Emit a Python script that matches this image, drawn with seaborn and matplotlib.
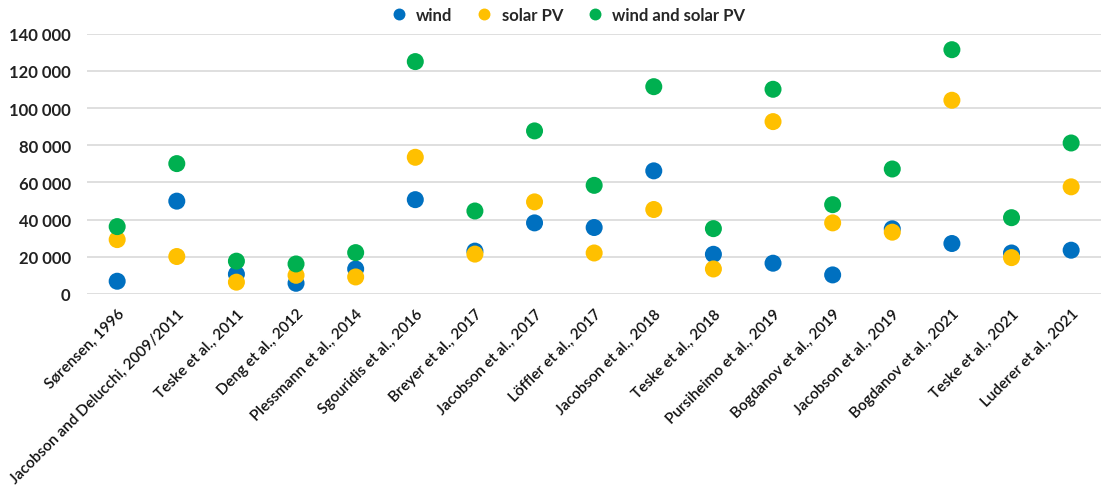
import matplotlib
matplotlib.use("Agg")
import matplotlib.pyplot as plt
import seaborn as sns
import pandas as pd

studies = ["Sørensen, 1996", "Jacobson and Delucchi, 2009/2011", "Teske et al., 2011",
           "Deng et al., 2012", "Plessmann et al., 2014", "Sgouridis et al., 2016",
           "Breyer et al., 2017", "Jacobson et al., 2017", "Löffler et al., 2017",
           "Jacobson et al., 2018", "Teske et al., 2018", "Pursiheimo et al., 2019",
           "Bogdanov et al., 2019", "Jacobson et al., 2019", "Bogdanov et al., 2021",
           "Teske et al., 2021", "Luderer et al., 2021"]
wind = [6800, 49900, 10600, 5700, 13400, 50700, 23000, 38200, 35700,
        66200, 21300, 16500, 10200, 35000, 27100, 22000, 23500]
solar = [29200, 20100, 6300, 10000, 9100, 73500, 21400, 49500, 22000,
         45400, 13400, 92700, 38200, 33200, 104200, 19500, 57600]
both = [36200, 70100, 17600, 16100, 22200, 125000, 44600, 87700, 58400,
        111500, 35100, 110100, 48000, 67200, 131400, 41000, 81200]
series_names = ["wind", "solar PV", "wind and solar PV"]
yticks = [0, 20000, 40000, 60000, 80000, 100000, 120000, 140000]

df = pd.concat([
    pd.DataFrame({"study": studies, "value": wind, "series": series_names[0]}),
    pd.DataFrame({"study": studies, "value": solar, "series": series_names[1]}),
    pd.DataFrame({"study": studies, "value": both, "series": series_names[2]}),
])

sns.set_theme(style="white")
plt.rcParams['font.family'] = ['Lato', 'DejaVu Sans']

fig = plt.figure(figsize=(11.2, 4.89), dpi=100)
ax = fig.add_axes([0.078, 0.397, 0.905, 0.532])

palette = {"wind": "#0070C0", "solar PV": "#FFC000", "wind and solar PV": "#00B050"}
sns.scatterplot(data=df, x="study", y="value", hue="series", palette=palette,
                hue_order=series_names, s=150, edgecolor="none", ax=ax, zorder=3)

ax.set_xlim(-0.5, len(studies) - 0.5)
ax.set_ylim(0, 140000)
ax.set_yticks(yticks)
ax.set_yticklabels([f"{v:,}".replace(",", " ") for v in yticks],
                   fontsize=12, fontweight="bold", color="#222222")
ax.yaxis.grid(True, color="#D9D9D9", linewidth=1.2)
ax.xaxis.grid(False)
ax.set_axisbelow(True)
for sp in ax.spines.values():
    sp.set_visible(False)
ax.tick_params(axis="y", length=0, pad=12)
ax.tick_params(axis="x", length=0, pad=9)
ax.set_xticks(range(len(studies)))
ax.set_xticklabels(studies, rotation=45, ha="right", rotation_mode="anchor",
                   fontsize=11, fontweight="semibold", color="#111111")
ax.set_xlabel("")
ax.set_ylabel("")
for c in ax.collections:
    c.set_clip_on(False)

leg = ax.legend(loc="lower center", bbox_to_anchor=(0.47, 0.985), ncol=3,
                frameon=False, handletextpad=0.05, columnspacing=0.9,
                markerscale=0.7, prop={"weight": "bold", "size": 12})

fig.savefig("out.png", dpi=100)
